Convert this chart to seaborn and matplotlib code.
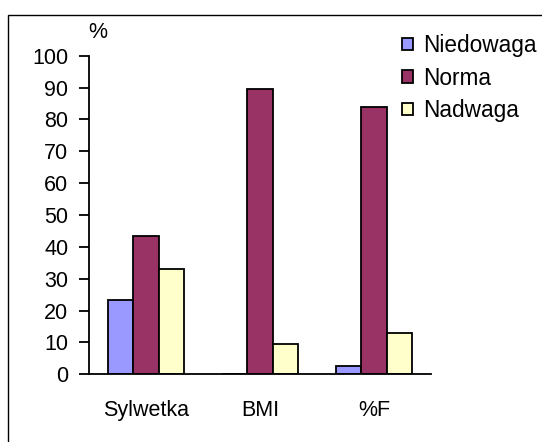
import matplotlib
matplotlib.use("Agg")
import matplotlib.pyplot as plt
import seaborn as sns
import pandas as pd
from matplotlib.patches import Rectangle

categories = ["Sylwetka", "BMI", "%F"]
series_names = ["Niedowaga", "Norma", "Nadwaga"]
niedowaga = [23.4, 0.0, 2.7]
norma = [43.4, 89.6, 83.8]
nadwaga = [33.1, 9.6, 13.0]
y_ticks = [0, 10, 20, 30, 40, 50, 60, 70, 80, 90, 100]
colors = ["#9999FF", "#993366", "#FFFFCC"]

rows = []
for name, vals in zip(series_names, [niedowaga, norma, nadwaga]):
    for c, v in zip(categories, vals):
        rows.append({"cat": c, "grp": name, "val": v})
df = pd.DataFrame(rows)

sns.set_style("white")
plt.rcParams['font.family'] = ['Liberation Sans', 'DejaVu Sans']
plt.rcParams['text.color'] = 'black'
plt.rcParams['xtick.color'] = 'black'
plt.rcParams['ytick.color'] = 'black'

W, H = 542, 442
fig = plt.figure(figsize=(W / 100, H / 100), dpi=100)
ax = fig.add_axes([89 / W, (H - 374.3) / H, (431 - 89) / W, (374.3 - 55.7) / H])

sns.barplot(data=df, x="cat", y="val", hue="grp", order=categories,
            hue_order=series_names, palette=dict(zip(series_names, colors)),
            saturation=1, width=0.675, gap=0, edgecolor="black", linewidth=1.3,
            errorbar=None, ax=ax)

fs = 15.5
ax.set_xlim(-0.5, 2.5)
ax.set_ylim(0, 100)
ax.set_yticks(y_ticks)
ax.set_yticklabels([str(t) for t in y_ticks], fontsize=fs, color="black")
ax.set_xticks(range(len(categories)))
ax.set_xticklabels(categories, fontsize=fs, color="black")
ax.set_xticks([-0.5, 0.5, 1.5, 2.5], minor=True)
ax.tick_params(axis="x", which="major", length=0, pad=18.5)
ax.tick_params(axis="x", which="minor", length=8, width=1.3, color="black", direction="out")
ax.tick_params(axis="y", which="major", length=7, width=1.3, color="black", direction="out", pad=8, left=True)
ax.set_xlabel("")
ax.set_ylabel("")
for s in ["top", "right"]:
    ax.spines[s].set_visible(False)
for s in ["left", "bottom"]:
    ax.spines[s].set_color("black")
    ax.spines[s].set_linewidth(1.3)

fig.text(98 / W, 1 - 32 / H, "%", ha="center", va="center", fontsize=fs, color="black")

ax.legend_.remove()
handles, labels = ax.get_legend_handles_labels()
fig.legend(handles, labels, loc="upper left", bbox_to_anchor=(402 / W, 1 - 34 / H),
           bbox_transform=fig.transFigure, frameon=False, fontsize=16.3,
           handlelength=0.5, handleheight=0.5, handletextpad=0.45,
           labelspacing=0.42, borderpad=0, borderaxespad=0)

fig.patches.append(Rectangle((8 / W, -0.5), 2, (1 - 15 / H) + 0.5,
                             transform=fig.transFigure, fill=False,
                             edgecolor="black", linewidth=1, figure=fig))

fig.savefig("out.png", dpi=100)
